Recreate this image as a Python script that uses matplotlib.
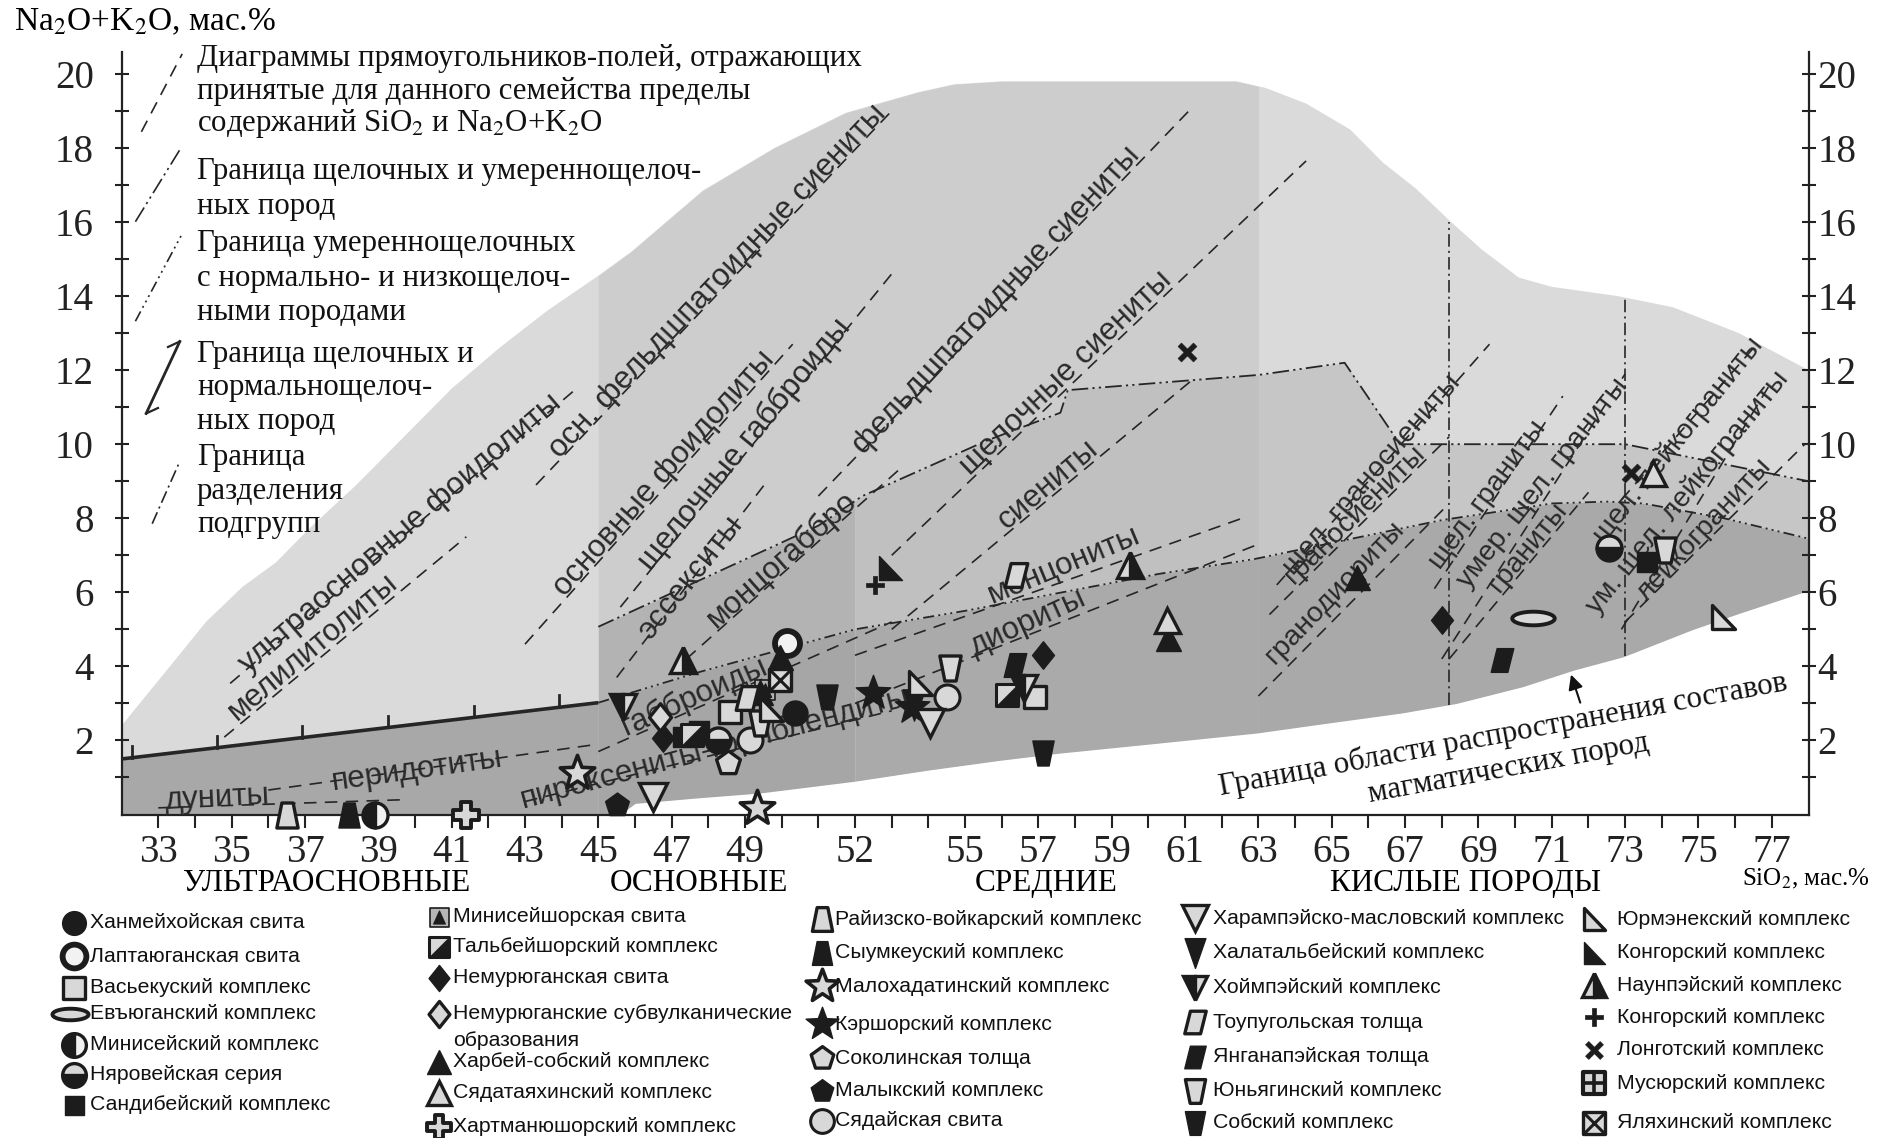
import numpy as np
import matplotlib
matplotlib.use("Agg")
import matplotlib.pyplot as plt
from matplotlib.path import Path

SERIF = ["Liberation Serif", "DejaVu Serif"]
SANS = ["Liberation Sans", "DejaVu Sans"]
plt.rcParams["font.family"] = SERIF
plt.rcParams["mathtext.fontset"] = "stix"
plt.rcParams["lines.scale_dashes"] = False

# ---------------- field of igneous rock compositions ----------------
env_top_sio2 = [32.0, 33.4, 34.3, 35.3, 36.2, 37.2, 38.4, 39.6, 41.0, 42.3, 43.6, 45.0, 45.9,
                47.85, 49.8, 51.75, 53.7, 54.7, 56.0, 62.4, 63.2, 64.3, 65.5, 66.4, 67.3,
                68.2, 69.1, 70.1, 71.0, 72.8, 74.3, 76.1, 78.0]
env_top_alk = [2.4, 4.1, 5.2, 6.15, 6.8, 7.8, 8.9, 10.1, 11.5, 12.6, 13.6, 14.55, 15.2,
               16.85, 18.0, 18.95, 19.5, 19.72, 19.8, 19.8, 19.62, 19.2, 18.5, 17.6, 16.9,
               16.05, 15.25, 14.5, 14.25, 14.0, 13.7, 13.0, 12.0]
env_bot_sio2 = [32.0, 45.6, 46.0, 47.6, 49.4, 52.0, 54.0, 56.0, 57.6, 60.3, 62.95, 64.9,
                66.9, 68.4, 70.2, 71.6, 72.95, 74.8, 76.1, 78.0]
env_bot_alk = [0.0, 0.0, 0.3, 0.44, 0.58, 0.9, 1.2, 1.47, 1.66, 1.93, 2.2, 2.47, 2.74, 3.0,
               3.45, 3.9, 4.26, 4.98, 5.43, 6.05]

# subgroup boundaries
alk_bound_sio2 = [45.0, 51.0, 52.2, 55.6, 57.6, 57.8, 61.2, 63.0, 65.35, 66.86, 73.0, 78.0]
alk_bound_alk = [5.07, 7.8, 8.6, 10.1, 10.85, 11.46, 11.73, 11.87, 12.2, 10.0, 10.0, 9.0]
mod_bound_sio2 = [45.0, 47.8, 52.0, 55.0, 60.3, 62.9, 65.8, 68.0, 71.0, 72.5, 73.5, 75.7, 78.0]
mod_bound_alk = [3.02, 3.86, 5.0, 5.5, 6.5, 6.9, 7.5, 7.95, 8.4, 8.45, 8.4, 8.0, 7.45]
ub_bound_sio2 = [32.0, 45.0]
ub_bound_alk = [1.5, 3.02]
ub_tick_sio2 = [32.27, 34.6, 36.93, 39.27, 41.6, 43.93]
split_sio2 = [68.2, 73.0]
split_top_alk = [16.0, 14.0]

# family fields: diagonals of the SiO2 / alkali rectangles
field_names = ["дуниты", "перидотиты", "ультраосновные фоидолиты", "мелилитолиты",
               "пироксениты-горнблендиты", "габброиды", "эссекситы", "монцогаббро",
               "основные фоидолиты", "щелочные габброиды", "осн. фельдшпатоидные сиениты",
               "фельдшпатоидные сиениты", "щелочные сиениты", "сиениты", "монцониты",
               "диориты", "щел. граносиениты", "граносиениты", "гранодиориты",
               "щел. граниты", "умер. щел. граниты", "граниты", "щел. лейкограниты",
               "ум. щел. лейкограниты", "лейкограниты"]
field_lines = [(33.0, 0.18, 39.7, 0.40), (36.0, 0.66, 45.0, 1.90), (34.96, 3.54, 44.4, 11.5),
               (34.8, 2.09, 41.4, 7.5), (43.0, 0.35, 53.0, 2.8), (45.0, 1.7, 53.0, 5.2),
               (45.5, 3.7, 49.6, 9.0), (47.4, 4.2, 53.3, 9.4), (43.0, 4.6, 50.3, 12.7),
               (45.6, 5.6, 53.0, 14.6), (43.3, 8.9, 53.0, 19.0), (51.0, 8.6, 61.2, 19.1),
               (53.0, 7.0, 64.3, 17.65), (53.0, 5.0, 61.2, 11.74), (52.0, 4.3, 62.7, 8.05),
               (52.0, 3.0, 63.0, 7.3), (63.5, 6.2, 69.3, 12.7), (63.3, 5.4, 68.2, 10.2),
               (63.0, 3.2, 68.2, 8.4), (67.8, 6.1, 71.3, 11.3), (68.0, 4.2, 73.0, 11.9),
               (68.2, 4.2, 72.0, 8.7), (72.9, 8.5, 76.5, 12.6), (72.9, 5.0, 77.0, 11.7),
               (73.0, 5.2, 77.9, 10.0)]
field_label_pos = [(34.6, 0.45, 3), (40.07, 1.2, 8), (39.6, 7.6, 40.5), (37.22, 4.52, 40),
                   (48.18, 1.78, 15), (47.63, 3.18, 23.7), (47.5, 6.39, 51.3), (50.0, 6.88, 41.5),
                   (46.8, 9.22, 48.4), (48.99, 9.99, 50.5), (48.25, 14.4, 46.5),
                   (55.85, 13.9, 47.2), (57.75, 11.91, 43.8), (57.25, 8.9, 40.3),
                   (57.7, 6.73, 22.5), (56.72, 5.17, 24.5), (66.1, 9.18, 49), (65.63, 8.11, 44.6),
                   (65.09, 5.98, 46), (69.26, 8.63, 53.3), (70.76, 8.95, 51.8), (70.35, 7.22, 50.6),
                   (74.45, 10.1, 51.3), (74.7, 8.7, 50.9), (75.15, 7.7, 47)]
field_label_size = [22.5] * 16 + [20.5] * 9

# axis ticks
x_ticks = list(range(33, 78))
x_tick_labels = [33, 35, 37, 39, 41, 43, 45, 47, 49, 52, 55, 57, 59, 61, 63, 65, 67, 69, 71, 73, 75, 77]
y_ticks = list(range(1, 21))
y_tick_labels = [2, 4, 6, 8, 10, 12, 14, 16, 18, 20]

# ---------------- analyses (SiO2, Na2O+K2O) by complex ----------------
KHANMEI = [(50.36, 2.73)]
LAPTAYUGAN = [(50.14, 4.62)]
VASEKU = [(48.6, 2.78), (56.9, 3.18)]
EVYUGAN = [(70.5, 5.3)]
MINISEI = [(38.9, 0.0)]
NYAROVEI = [(72.55, 7.19), (48.25, 2.0)]
SANDIBEI = [(73.6, 6.83), (47.3, 2.1), (47.75, 2.25)]
MINISEISHOR = [(49.55, 3.35)]
TALBEISHOR = [(56.14, 3.23), (47.55, 2.15)]
NEMUR = [(46.77, 2.06), (57.13, 4.31), (68.0, 5.25)]
NEMUR_SUB = [(46.68, 2.64)]
KHARBEI = [(49.95, 4.26), (60.54, 4.76), (65.7, 6.42), (49.4, 3.3)]
SYADATAYAKH = [(60.5, 5.25), (73.77, 9.21)]
KHARTMAN = [(41.4, 0.0)]
RAIIZ = [(36.5, 0.0)]
SYUMKEU = [(38.2, 0.0)]
MALOKHAD = [(44.41, 1.12), (49.32, 0.17)]
KERSHOR = [(52.5, 3.27), (53.55, 2.9)]
SOKOLIN = [(48.54, 1.38)]
MALYK = [(45.5, 0.26)]
SYADAI = [(49.13, 2.01), (54.5, 3.18)]
KHARAMP = [(46.5, 0.48), (54.04, 2.46)]
KHALATAL = [(53.6, 2.95)]
KHOIMPE = [(45.68, 2.91), (56.6, 3.41)]
TOUPUGOL = [(49.05, 3.14), (56.4, 6.47)]
YANGAN = [(56.36, 4.04), (69.63, 4.17)]
YUNYAG = [(49.4, 2.46), (54.6, 3.95), (74.1, 7.14)]
SOBSK = [(51.23, 3.18), (57.13, 1.65)]
YURMENEK = [(53.77, 3.54), (75.68, 5.34), (49.7, 2.85)]
KONGOR_TRI = [(52.95, 6.65)]
NAUNPE = [(59.5, 6.74), (47.32, 4.17)]
KONGOR_PLUS = [(52.55, 6.2)]
LONGOT = [(61.05, 12.5), (73.17, 9.21)]
MUSYUR = []
YALYAKH = [(49.95, 3.63)]

# ---------------- marker shapes ----------------
def closed(verts):
    v = np.asarray(verts, float)
    return Path(np.vstack([v, v[:1]]), closed=True)


def regular(n, start=90.0):
    a = np.deg2rad(start + np.arange(n) * 360.0 / n)
    return closed(np.c_[np.cos(a), np.sin(a)])


def star(n=5, r_in=0.42):
    a = np.deg2rad(90 + np.arange(2 * n) * 180.0 / n)
    r = np.where(np.arange(2 * n) % 2 == 0, 1.0, r_in)
    return closed(np.c_[r * np.cos(a), r * np.sin(a)])


t = np.linspace(0, 2 * np.pi, 60, endpoint=False)
P_ELLIPSE = closed(np.c_[np.cos(t), 0.32 * np.sin(t)])
P_SQUARE = closed([(-1, -1), (1, -1), (1, 1), (-1, 1)])
P_DIAMOND = closed([(0, 1), (0.8, 0), (0, -1), (-0.8, 0)])
P_TRAP_UP = closed([(-0.85, -1), (0.85, -1), (0.45, 1), (-0.45, 1)])
P_TRAP_DN = closed([(-0.85, 1), (0.85, 1), (0.45, -1), (-0.45, -1)])
P_PARAL = closed([(-0.95, -1), (0.45, -1), (0.95, 1), (-0.45, 1)])
P_RTRI = closed([(-0.9, 1), (-0.9, -1), (1, -1)])
P_VNARROW = closed([(-0.7, 1), (0.7, 1), (0, -1)])
a_ = 0.36
P_FATPLUS = closed([(-a_, 1), (a_, 1), (a_, a_), (1, a_), (1, -a_), (a_, -a_), (a_, -1), (-a_, -1),
                    (-a_, -a_), (-1, -a_), (-1, a_), (-a_, a_)])
b_ = 0.22
P_PLUS = closed([(-b_, 1), (b_, 1), (b_, b_), (1, b_), (1, -b_), (b_, -b_), (b_, -1), (-b_, -1),
                 (-b_, -b_), (-1, -b_), (-1, b_), (-b_, b_)])
P_X = Path(P_PLUS.vertices @ np.array([[np.cos(np.pi / 4), np.sin(np.pi / 4)],
                                      [-np.sin(np.pi / 4), np.cos(np.pi / 4)]]), P_PLUS.codes)
P_TRI_IN = closed([(0, 1), (-0.9, -1), (0.9, -1)])
P_HALF_UL = closed([(-1, -1), (-1, 1), (1, 1)])
P_HALF_LR = closed([(-1, -1), (1, 1), (1, -1)])

DARK = "#1c1c1c"
LIGHT = "#d8d8d8"


def L(marker, size=1.0, fc=LIGHT, ec=DARK, ew=2.4, **kw):
    d = dict(marker=marker, size=size, fc=fc, ec=ec, ew=ew)
    d.update(kw)
    return d


STYLES = {
    "khanmei": [L("o", 1.0, DARK, DARK, 1)],
    "laptayugan": [L("o", 1.0, "#f2f2f2", DARK, 4.2)],
    "vaseku": [L(P_SQUARE, 0.9)],
    "evyugan": [L(P_ELLIPSE, 1.7, ew=2.8)],
    "minisei": [L("o", 1.0, DARK, DARK, 2.4, fs="left", alt="#f2f2f2")],
    "nyarovei": [L("o", 1.0, DARK, DARK, 2.4, fs="bottom", alt=LIGHT)],
    "sandibei": [L(P_SQUARE, 0.8, DARK, DARK, 1)],
    "miniseishor": [L(P_SQUARE, 0.8, "#b5b5b5", DARK, 1.2), L(P_TRI_IN, 0.55, DARK, DARK, 0.8)],
    "talbeishor": [L(P_HALF_LR, 0.85, DARK, DARK, 0.5), L(P_HALF_UL, 0.85, LIGHT, DARK, 0.5),
                   L(P_SQUARE, 0.85, "none", DARK, 2.2)],
    "nemur": [L(P_DIAMOND, 1.1, DARK, DARK, 1)],
    "nemur_sub": [L(P_DIAMOND, 1.1)],
    "kharbei": [L("^", 1.0, DARK, DARK, 1)],
    "syadatayakh": [L("^", 1.0)],
    "khartman": [L(P_FATPLUS, 1.05, ew=2.8)],
    "raiiz": [L(P_TRAP_UP, 1.0)],
    "syumkeu": [L(P_TRAP_UP, 1.0, DARK, DARK, 1)],
    "malokhad": [L(star(), 1.45, ew=2.6)],
    "kershor": [L(star(), 1.45, DARK, DARK, 1)],
    "sokolin": [L(regular(5), 1.0)],
    "malyk": [L(regular(5), 1.0, DARK, DARK, 1)],
    "syadai": [L("o", 1.0, LIGHT, DARK, 2.2)],
    "kharamp": [L("v", 1.1)],
    "khalatal": [L(P_VNARROW, 1.25, DARK, DARK, 1)],
    "khoimpe": [L("v", 1.05, DARK, DARK, 2.4, fs="left", alt=LIGHT)],
    "toupugol": [L(P_PARAL, 0.95)],
    "yangan": [L(P_PARAL, 0.95, DARK, DARK, 1)],
    "yunyag": [L(P_TRAP_DN, 1.0)],
    "sobsk": [L(P_TRAP_DN, 1.0, DARK, DARK, 1)],
    "yurmenek": [L(P_RTRI, 0.95)],
    "kongor_tri": [L(P_RTRI, 0.95, DARK, DARK, 1)],
    "naunpe": [L("^", 1.05, DARK, DARK, 2.4, fs="right", alt=LIGHT)],
    "kongor_plus": [L(P_PLUS, 0.75, DARK, DARK, 0.5)],
    "longot": [L(P_X, 0.75, DARK, DARK, 0.5)],
    "musyur": [L(P_SQUARE, 0.9, LIGHT, DARK, 3.0), L("+", 0.9, DARK, DARK, 2.6)],
    "yalyakh": [L(P_SQUARE, 0.9, LIGHT, DARK, 2.4), L("x", 0.85, DARK, DARK, 2.2)],
}

BASE_MS = 18.0


def draw_marker(axis, xs, ys, style, scale=1.0, z=6):
    for lay in STYLES[style]:
        kw = dict(linestyle="none", marker=lay["marker"], markersize=BASE_MS * lay["size"] * scale,
                  markerfacecolor=lay["fc"], markeredgecolor=lay["ec"],
                  markeredgewidth=lay["ew"], zorder=z, clip_on=False)
        if "fs" in lay:
            kw["fillstyle"] = lay["fs"]
            kw["markerfacecoloralt"] = lay["alt"]
        axis.plot(xs, ys, **kw)


# ---------------- figure ----------------
W, H = 1879, 1138
fig = plt.figure(figsize=(W / 100, H / 100), dpi=100)
fig.patch.set_facecolor("white")
X0, X1 = 121.6, 1808.5
Y0, Y1 = 814.5, 51.7
ax = fig.add_axes([X0 / W, (H - Y0) / H, (X1 - X0) / W, (Y0 - Y1) / H])
ax.set_xlim(32, 78)
ax.set_ylim(0, 20.6)
ax.set_facecolor("none")

ov = fig.add_axes([0, 0, 1, 1])
ov.set_xlim(0, W)
ov.set_ylim(H, 0)
ov.axis("off")
ov.patch.set_visible(False)

# shaded areas
xt = np.array(env_top_sio2)
yt = np.array(env_top_alk)
xb = np.array(env_bot_sio2)
yb = np.array(env_bot_alk)
env_poly = np.vstack([np.c_[xt, yt], np.c_[xb[::-1], yb[::-1]]])
ax.fill(env_poly[:, 0], env_poly[:, 1], color="#dadada", lw=0, zorder=1)


def top_at(x):
    return np.interp(x, xt, yt)


def bot_at(x):
    return np.interp(x, xb, yb)


def ualk(x):
    return np.interp(x, alk_bound_sio2, alk_bound_alk)


def umod(x):
    return np.interp(x, mod_bound_sio2, mod_bound_alk)


g = np.linspace(45, 63, 300)
ax.fill_between(g, ualk(g), top_at(g), color="#cdcdcd", lw=0, zorder=1.1)
for a, b, cm, cn in [(45, 52, "#b3b3b3", "#a6a6a6"), (52, 63, "#c0c0c0", "#aaaaaa"),
                     (63, 78, "#c6c6c6", "#a9a9a9")]:
    g = np.linspace(a, b, 300)
    ax.fill_between(g, umod(g), ualk(g), color=cm, lw=0, zorder=1.2)
    ax.fill_between(g, bot_at(g), umod(g), color=cn, lw=0, zorder=1.2)
g = np.linspace(32, 45, 100)
ax.fill_between(g, 0, np.interp(g, ub_bound_sio2, ub_bound_alk), color="#a8a8a8", lw=0, zorder=1.2)

LC = "#262626"
# subgroup boundary lines
ax.plot(alk_bound_sio2, alk_bound_alk, color=LC, lw=1.3, dashes=(12, 3, 1.6, 3, 1.6, 3), zorder=3)
ax.plot(mod_bound_sio2, mod_bound_alk, color=LC, lw=1.3, dashes=(8, 3, 1.4, 3, 1.4, 3, 1.4, 3), zorder=3)
ax.plot(ub_bound_sio2, ub_bound_alk, color=LC, lw=2.6, solid_capstyle="butt", zorder=3)
for s in ub_tick_sio2:
    v = np.interp(s, ub_bound_sio2, ub_bound_alk)
    ax.plot([s, s], [v, v + 0.32], color=LC, lw=2.0, zorder=3)
for s, vt in zip(split_sio2, split_top_alk):
    ax.plot([s, s], [bot_at(s), vt], color=LC, lw=1.2, dashes=(9, 3, 1.5, 3), zorder=3)

# family fields and their names
for name, (s0, v0, s1, v1), (ls, lv, rot), fsz in zip(field_names, field_lines,
                                                      field_label_pos, field_label_size):
    ax.plot([s0, s1], [v0, v1], color=LC, lw=1.2, dashes=(9, 6), zorder=2.5)
    ax.text(ls, lv, name, rotation=rot, rotation_mode="anchor", ha="center", va="center",
            fontsize=fsz, family=SANS, color="#2a2a2a", zorder=4)

# boundary annotation
ax.text(69.75, 1.7, "Граница области распространения составов\nмагматических пород",
        rotation=10.5, rotation_mode="anchor", ha="center", va="center", multialignment="center",
        linespacing=1.2, fontsize=22.3, family=SERIF, color="#111")
ax.annotate("", xy=(71.5, 3.85), xytext=(71.8, 2.95),
            arrowprops=dict(arrowstyle="-|>", color="#111", lw=1.5, mutation_scale=22))

# analyses
series = [("khanmei", KHANMEI), ("laptayugan", LAPTAYUGAN), ("vaseku", VASEKU),
          ("evyugan", EVYUGAN), ("minisei", MINISEI), ("nyarovei", NYAROVEI),
          ("sandibei", SANDIBEI), ("miniseishor", MINISEISHOR), ("talbeishor", TALBEISHOR),
          ("nemur", NEMUR), ("nemur_sub", NEMUR_SUB), ("kharbei", KHARBEI),
          ("syadatayakh", SYADATAYAKH), ("khartman", KHARTMAN), ("raiiz", RAIIZ),
          ("syumkeu", SYUMKEU), ("malokhad", MALOKHAD), ("kershor", KERSHOR),
          ("sokolin", SOKOLIN), ("malyk", MALYK), ("syadai", SYADAI), ("kharamp", KHARAMP),
          ("khalatal", KHALATAL), ("khoimpe", KHOIMPE), ("toupugol", TOUPUGOL),
          ("yangan", YANGAN), ("yunyag", YUNYAG), ("sobsk", SOBSK), ("yurmenek", YURMENEK),
          ("kongor_tri", KONGOR_TRI), ("naunpe", NAUNPE), ("kongor_plus", KONGOR_PLUS),
          ("longot", LONGOT), ("musyur", MUSYUR), ("yalyakh", YALYAKH)]
for style, pts in series:
    if pts:
        arr = np.array(pts)
        draw_marker(ax, arr[:, 0], arr[:, 1], style)

# axes, ticks
for side in ("left", "right", "bottom"):
    ax.spines[side].set_linewidth(1.6)
    ax.spines[side].set_color("#222")
ax.spines["top"].set_visible(False)
ax.set_xticks(x_ticks)
ax.set_xticklabels([str(s) if s in x_tick_labels else "" for s in x_ticks])
ax.set_yticks(y_ticks)
ax.set_yticklabels([str(v) if v in y_tick_labels else "" for v in y_ticks])
ax.tick_params(axis="x", direction="out", length=9, width=1.5, labelsize=28, pad=5, colors="#222")
ax.tick_params(axis="y", direction="inout", length=10, width=1.5, labelsize=28, pad=15,
               left=True, right=True, labelleft=True, labelright=False, colors="#222")
for lab in ax.get_xticklabels() + ax.get_yticklabels():
    lab.set_fontfamily(SERIF)
for v in y_tick_labels:
    ax.text(1.0 + 9.0 / (X1 - X0), v, str(v), transform=ax.get_yaxis_transform(), ha="left",
            va="center_baseline", fontsize=28, family=SERIF, color="#222")

ov.text(14, 22, "Na$_2$O+K$_2$O, мас.%", fontsize=24, ha="left", va="center", family=SERIF)
ov.text(1742, 879, "SiO$_2$, мас.%", fontsize=18, ha="left", va="center", family=SERIF)
for txt, xc in [("УЛЬТРАОСНОВНЫЕ", 327), ("ОСНОВНЫЕ", 699), ("СРЕДНИЕ", 1046),
                ("КИСЛЫЕ ПОРОДЫ", 1466)]:
    ov.text(xc, 883, txt, fontsize=22.5, ha="center", va="center", family=SERIF)

# key to the line symbols
key_lines = ["Диаграммы прямоугольников-полей, отражающих", "принятые для данного семейства пределы",
             "содержаний SiO$_2$ и Na$_2$O+K$_2$O", "Граница щелочных и умереннощелоч-",
             "ных пород", "Граница умереннощелочных", "с нормально- и низкощелоч-",
             "ными породами", "Граница щелочных и", "нормальнощелоч-", "ных пород",
             "Граница", "разделения", "подгрупп"]
key_y = [58.7, 91, 123.4, 171.4, 206.1, 243.3, 278, 312.8, 354.7, 387, 421.8, 457.8, 491.3, 524.9]
for txt, yy in zip(key_lines, key_y):
    ov.text(197, yy, txt, fontsize=22.2, ha="left", va="center", family=SERIF, color="#111")
ov.plot([141.4, 182.2], [131.8, 53.9], color=LC, lw=1.2, dashes=(9, 6))
ov.plot([135.4, 179.8], [221.7, 149.8], color=LC, lw=1.2, dashes=(12, 3, 1.6, 3, 1.6, 3))
ov.plot([135.4, 182.2], [321.2, 233.7], color=LC, lw=1.2, dashes=(8, 3, 1.4, 3, 1.4, 3, 1.4, 3))
ov.plot([146.2, 179.8], [413.4, 341.5], color=LC, lw=2.0)
ov.plot([179.8, 168], [341.5, 347], color=LC, lw=1.6)
ov.plot([146.2, 158], [413.4, 408], color=LC, lw=1.6)
ov.plot([152.2, 179.8], [523.7, 461.4], color=LC, lw=1.2, dashes=(9, 3, 1.5, 3))

# key to the symbols
legend_cols = [
    (74.3, 90, [("khanmei", "Ханмейхойская свита", 922.8), ("laptayugan", "Лаптаюганская свита", 956.3),
                ("vaseku", "Васьекуский комплекс", 987.5), ("evyugan", "Евъюганский комплекс", 1013.8),
                ("minisei", "Минисейский комплекс", 1045), ("nyarovei", "Няровейская серия", 1075),
                ("sandibei", "Сандибейский комплекс", 1105)]),
    (438.6, 453, [("miniseishor", "Минисейшорская свита", 916.8),
                  ("talbeishor", "Тальбейшорский комплекс", 946.7),
                  ("nemur", "Немурюганская свита", 977.9),
                  ("nemur_sub", "Немурюганские субвулканические", 1013.8),
                  ("kharbei", "Харбей-собский комплекс", 1061.8),
                  ("syadatayakh", "Сядатаяхинский комплекс", 1092.9),
                  ("khartman", "Хартманюшорский комплекс", 1126.5)]),
    (822, 835.3, [("raiiz", "Райизско-войкарский комплекс", 919.1), ("syumkeu", "Сыумкеуский комплекс", 952.7),
                  ("malokhad", "Малохадатинский комплекс", 986.3), ("kershor", "Кэршорский комплекс", 1024),
                  ("sokolin", "Соколинская толща", 1058.2), ("malyk", "Малыкский комплекс", 1090.5),
                  ("syadai", "Сядайская свита", 1120.5)]),
    (1194.8, 1212.8, [("kharamp", "Харампэйско-масловский комплекс", 918),
                      ("khalatal", "Халатальбейский комплекс", 952.7),
                      ("khoimpe", "Хоймпэйский комплекс", 987.5),
                      ("toupugol", "Тоупугольская толща", 1022.2),
                      ("yangan", "Янганапэйская толща", 1057),
                      ("yunyag", "Юньягинский комплекс", 1090.5),
                      ("sobsk", "Собский комплекс", 1122.9)]),
    (1594, 1617, [("yurmenek", "Юрмэнекский комплекс", 919.1), ("kongor_tri", "Конгорский комплекс", 952.7),
                  ("naunpe", "Наунпэйский комплекс", 985), ("kongor_plus", "Конгорский комплекс", 1017.4),
                  ("longot", "Лонготский комплекс", 1049.8), ("musyur", "Мусюрский комплекс", 1083.4),
                  ("yalyakh", "Яляхинский комплекс", 1122.9)]),
]
for mx, tx, rows in legend_cols:
    for style, txt, yy in rows:
        px = mx - 4 if style == "evyugan" else mx
        draw_marker(ov, [px], [yy], style, scale=0.95 if style != "evyugan" else 0.85)
        ov.text(tx, yy, txt, fontsize=15.3, ha="left", va="center", family=SANS, color="#111")
ov.text(453, 1040.2, "образования", fontsize=15.3, ha="left", va="center", family=SANS, color="#111")

fig.savefig("out.png", dpi=100, facecolor="white")
